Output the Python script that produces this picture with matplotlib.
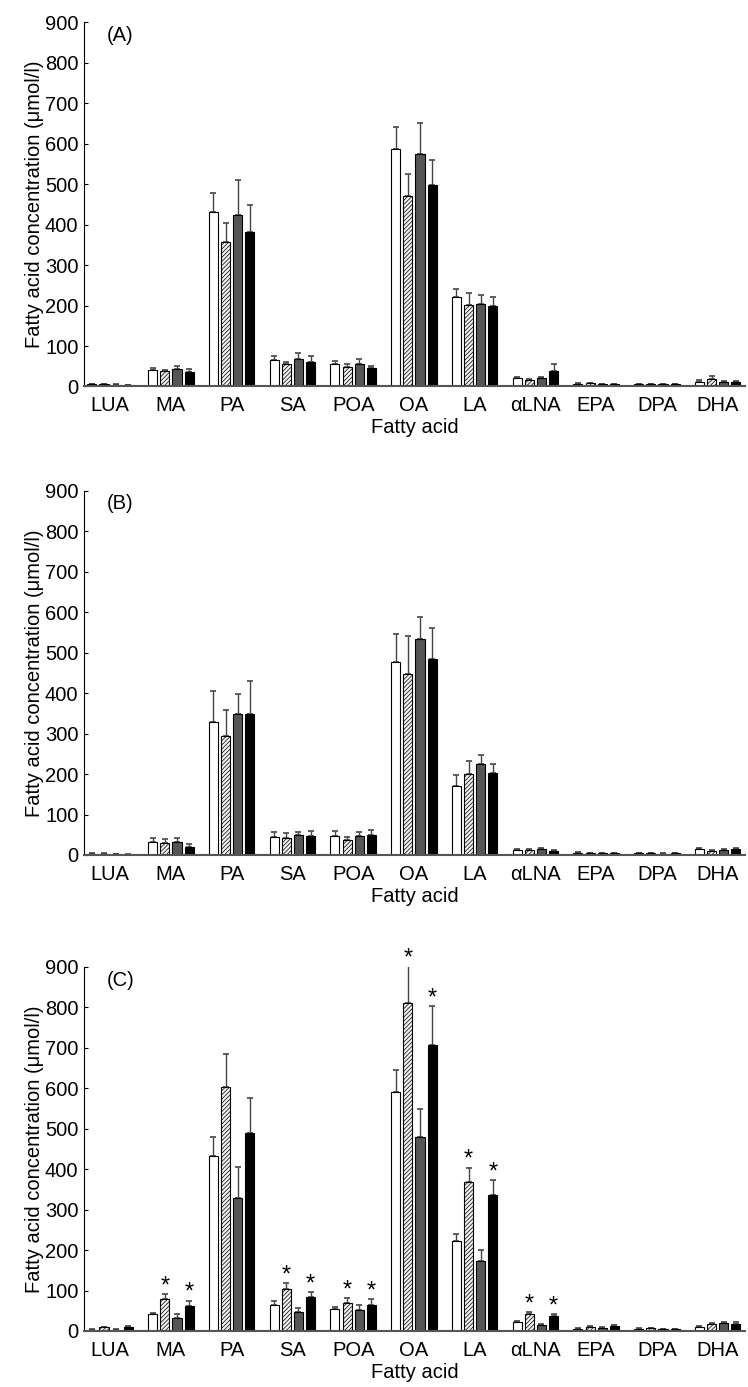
import matplotlib
matplotlib.use("Agg")
import matplotlib.pyplot as plt
import numpy as np

plt.rcParams["font.family"] = ["Liberation Sans", "DejaVu Sans"]
plt.rcParams["hatch.linewidth"] = 0.5
plt.rcParams["hatch.color"] = "#a8a8a8"

acids = ["LUA", "MA", "PA", "SA", "POA", "OA", "LA", "αLNA", "EPA", "DPA", "DHA"]

# panel A: means and upper error (SD) per group
a_white = [5, 42, 430, 65, 55, 587, 222, 20, 7, 6, 12]
a_hatch = [5, 38, 356, 55, 48, 471, 201, 16, 8, 6, 18]
a_dark = [4, 43, 424, 68, 55, 574, 205, 20, 6, 5, 10]
a_black = [3, 35, 381, 60, 45, 498, 200, 38, 6, 5, 12]
a_white_err = [1, 4, 49, 10, 7, 55, 18, 3, 1, 1, 4]
a_hatch_err = [1, 4, 49, 6, 8, 54, 31, 3, 1, 1, 8]
a_dark_err = [1, 8, 86, 15, 12, 77, 20, 3, 1, 1, 3]
a_black_err = [1, 8, 68, 15, 6, 62, 21, 18, 1, 1, 2]

# panel B
b_white = [3, 33, 328, 45, 48, 478, 171, 13, 6, 4, 15]
b_hatch = [3, 30, 294, 42, 38, 447, 199, 12, 4, 4, 10]
b_dark = [2, 33, 348, 50, 48, 533, 224, 15, 5, 3, 12]
b_black = [1, 20, 348, 47, 50, 484, 203, 10, 5, 4, 15]
b_white_err = [1, 10, 76, 12, 12, 68, 27, 3, 1, 1, 3]
b_hatch_err = [1, 10, 63, 12, 6, 93, 34, 3, 1, 1, 3]
b_dark_err = [1, 8, 50, 8, 10, 55, 22, 3, 1, 1, 2]
b_black_err = [1, 8, 83, 12, 12, 78, 23, 3, 1, 1, 3]

# panel C
c_white = [3, 41, 433, 64, 54, 590, 222, 23, 6, 6, 11]
c_hatch = [10, 79, 604, 103, 70, 812, 369, 41, 10, 7, 17]
c_dark = [3, 31, 330, 46, 52, 479, 174, 16, 8, 4, 19]
c_black = [11, 62, 490, 85, 64, 707, 336, 37, 12, 4, 17]
c_white_err = [1, 4, 47, 10, 6, 55, 19, 2, 1, 1, 2]
c_hatch_err = [1, 12, 81, 16, 11, 90, 35, 6, 2, 1, 3]
c_dark_err = [1, 10, 75, 10, 12, 70, 26, 2, 1, 1, 3]
c_black_err = [1, 13, 87, 11, 14, 96, 37, 4, 2, 1, 6]
# significance markers (index of acid) for hatched and black bars in C
c_hatch_star = [1, 3, 4, 5, 6, 7]
c_black_star = [1, 3, 4, 5, 6, 7]

panels = [
    ("(A)", [a_white, a_hatch, a_dark, a_black],
     [a_white_err, a_hatch_err, a_dark_err, a_black_err], None),
    ("(B)", [b_white, b_hatch, b_dark, b_black],
     [b_white_err, b_hatch_err, b_dark_err, b_black_err], None),
    ("(C)", [c_white, c_hatch, c_dark, c_black],
     [c_white_err, c_hatch_err, c_dark_err, c_black_err],
     [None, c_hatch_star, None, c_black_star]),
]

styles = [
    dict(facecolor="white", hatch=None),
    dict(facecolor="#f0f0f0", hatch="////////"),
    dict(facecolor="#555555", hatch=None),
    dict(facecolor="black", hatch=None),
]

fig = plt.figure(figsize=(7.48, 13.87), dpi=100)
H = 1387.0
tops = [22.3, 490.7, 967.0]
bottoms = [386.5, 855.0, 1331.0]
left = 84 / 748
width = 661 / 748

x = np.arange(len(acids))
offsets = [-0.3, -0.1, 0.1, 0.3]
bw = 0.15
fs = 14.5

for (label, series, errs, stars), top, bot in zip(panels, tops, bottoms):
    ax = fig.add_axes([left, 1 - bot / H, width, (bot - top) / H])
    for k in range(4):
        ax.bar(x + offsets[k], series[k], width=bw, edgecolor="black",
               linewidth=0.8, zorder=2, **styles[k])
        ax.errorbar(x + offsets[k], series[k],
                    yerr=[np.zeros(len(acids)), errs[k]], fmt="none",
                    ecolor="#444444", elinewidth=1.0, capsize=2.2,
                    capthick=1.2, zorder=1)
        if stars and stars[k]:
            for i in stars[k]:
                ax.text(x[i] + offsets[k], series[k][i] + errs[k][i] - 8, "*",
                        ha="center", va="bottom", fontsize=17)
    ax.set_xlim(-0.43, 10.45)
    ax.set_ylim(0, 900)
    ax.set_yticks(range(0, 901, 100))
    ax.set_xticks(x, acids)
    ax.tick_params(axis="x", length=0, labelsize=fs, pad=7)
    ax.tick_params(axis="y", direction="in", length=3, labelsize=fs, pad=4)
    ax.spines["top"].set_visible(False)
    ax.spines["right"].set_visible(False)
    ax.spines["left"].set_linewidth(0.8)
    ax.spines["bottom"].set_linewidth(1.5)
    ax.spines["bottom"].set_color("#555555")
    ax.set_xlabel("Fatty acid", fontsize=fs, labelpad=2)
    ax.set_ylabel("Fatty acid concentration (μmol/l)", fontsize=fs, labelpad=1)
    ax.text(0.034, 0.99, label, transform=ax.transAxes, fontsize=fs,
            ha="left", va="top")

fig.savefig("out.png", dpi=100)
